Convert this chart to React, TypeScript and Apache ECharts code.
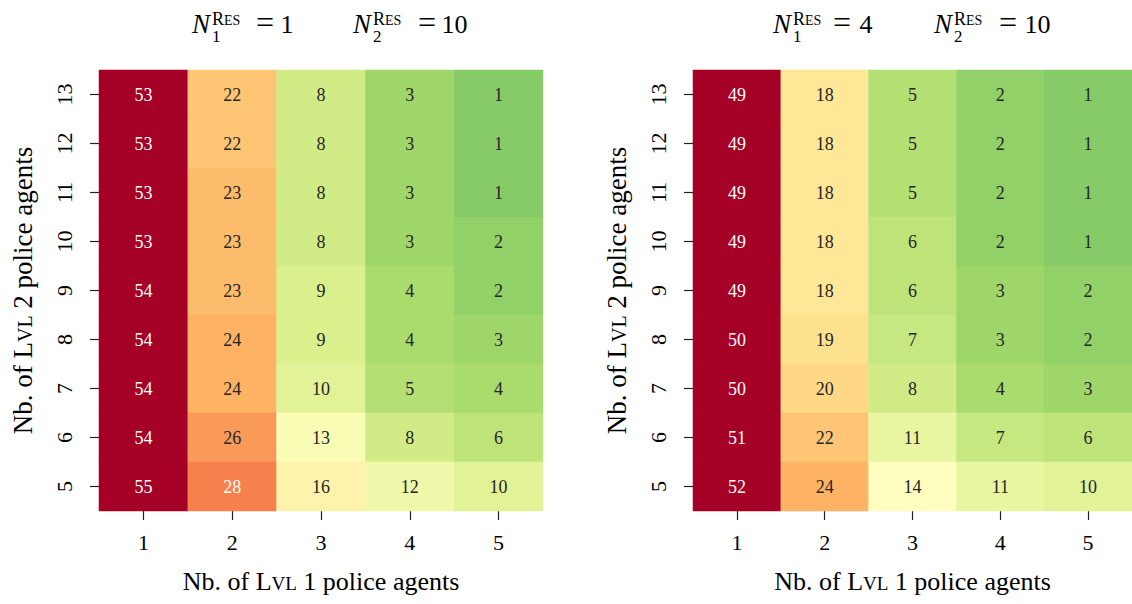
import React, { useEffect, useRef } from "react";
import * as echarts from "echarts";

const xCategories = ["1", "2", "3", "4", "5"];
const yCategories = ["5", "6", "7", "8", "9", "10", "11", "12", "13"];

// rows listed from top (13) to bottom (5); columns Lvl1 = 1..5
const leftValues = [
  [53, 22, 8, 3, 1],
  [53, 22, 8, 3, 1],
  [53, 23, 8, 3, 1],
  [53, 23, 8, 3, 2],
  [54, 23, 9, 4, 2],
  [54, 24, 9, 4, 3],
  [54, 24, 10, 5, 4],
  [54, 26, 13, 8, 6],
  [55, 28, 16, 12, 10],
];
const rightValues = [
  [49, 18, 5, 2, 1],
  [49, 18, 5, 2, 1],
  [49, 18, 5, 2, 1],
  [49, 18, 6, 2, 1],
  [49, 18, 6, 3, 2],
  [50, 19, 7, 3, 2],
  [50, 20, 8, 4, 3],
  [51, 22, 11, 7, 6],
  [52, 24, 14, 11, 10],
];

const colorMin = -12;
const colorMax = 40;
const rdYlGnReversed = [
  "#006837", "#1a9850", "#66bd63", "#a6d96a", "#d9ef8b", "#ffffbf",
  "#fee08b", "#fdae61", "#f46d43", "#d73027", "#a50026",
];

const FONT = "'Liberation Serif', 'Times New Roman', serif";

function hexToRgb(h: string) {
  return [1, 3, 5].map((i) => parseInt(h.slice(i, i + 2), 16));
}
function colorFor(v: number) {
  let t = (v - colorMin) / (colorMax - colorMin);
  t = Math.max(0, Math.min(1, t));
  const pos = t * (rdYlGnReversed.length - 1);
  const i = Math.min(Math.floor(pos), rdYlGnReversed.length - 2);
  const f = pos - i;
  const a = hexToRgb(rdYlGnReversed[i]);
  const b = hexToRgb(rdYlGnReversed[i + 1]);
  return a.map((c, k) => c + (b[k] - c) * f);
}
function luminance(rgb: number[]) {
  const lin = rgb.map((c) => {
    const s = c / 255;
    return s <= 0.03928 ? s / 12.92 : Math.pow((s + 0.055) / 1.055, 2.4);
  });
  return 0.2126 * lin[0] + 0.7152 * lin[1] + 0.0722 * lin[2];
}
function buildData(rows: number[][]) {
  const out: any[] = [];
  rows.forEach((row, r) => {
    const yi = yCategories.length - 1 - r;
    row.forEach((v, xi) => {
      const dark = luminance(colorFor(v)) > 0.408;
      out.push({ value: [xi, yi, v], label: { color: dark ? "#262626" : "#ffffff" } });
    });
  });
  return out;
}

function titleBlock(nx: number, sub: string, val: string, eqC: number, valC: number) {
  const els: any[] = [];
  const add = (text: string, x: number, baseline: number, size: number, italic = false, align = "left") => {
    els.push({
      type: "text",
      style: {
        text,
        x,
        y: baseline - 0.34 * size,
        fontSize: size,
        fontFamily: FONT,
        fontStyle: italic ? "italic" : "normal",
        fill: "#000",
        align,
        verticalAlign: "middle",
      },
    });
  };
  add("N", nx, 33, 27, true);
  add(sub, nx + 20, 42, 17);
  add("R", nx + 20, 25, 18);
  add("ES", nx + 32, 25, 14);
  add("=", eqC, 33, 32, false, "center");
  add(val, valC, 33, 26, false, "center");
  return els;
}

function axisPair(gi: number) {
  const labelStyle = { fontSize: 22, color: "#000", fontFamily: FONT };
  const nameStyle = (size: number, sc: number) => ({
    fontSize: size,
    color: "#000",
    fontFamily: FONT,
    rich: {
      n: { fontSize: size, color: "#000", fontFamily: FONT, verticalAlign: "bottom" },
      sc: { fontSize: sc, color: "#000", fontFamily: FONT, verticalAlign: "bottom", padding: [0, 0, 1, 0] },
    },
  });
  const tick = { show: true, alignWithLabel: true, length: 9, lineStyle: { color: "#222", width: 1.2 } };
  return {
    x: {
      type: "category",
      gridIndex: gi,
      data: xCategories,
      position: "bottom",
      axisLine: { show: false },
      axisTick: tick,
      axisLabel: { ...labelStyle, margin: 20 },
      splitLine: { show: false },
      name: "{n|Nb. of L}{sc|VL}{n| 1 police agents}",
      nameLocation: "middle",
      nameGap: 57,
      nameTextStyle: nameStyle(26, 19),
    },
    y: {
      type: "category",
      gridIndex: gi,
      data: yCategories,
      axisLine: { show: false },
      axisTick: tick,
      axisLabel: { ...labelStyle, margin: 24, rotate: 90 },
      splitLine: { show: false },
      name: "{n|Nb. of L}{sc|VL}{n| 2 police agents}",
      nameLocation: "middle",
      nameGap: 63,
      nameRotate: 90,
      nameTextStyle: nameStyle(27, 20),
    },
  };
}

export default function App() {
  const ref = useRef<HTMLDivElement>(null);
  useEffect(() => {
    if (!ref.current) return;
    const chart = echarts.init(ref.current, undefined, { renderer: "svg" });
    const a0 = axisPair(0);
    const a1 = axisPair(1);
    const seriesCommon = {
      type: "heatmap",
      label: { show: true, fontSize: 18, fontFamily: FONT },
      itemStyle: { borderWidth: 0 },
      emphasis: { disabled: true },
    };
    chart.setOption({
      animation: false,
      backgroundColor: "#ffffff",
      grid: [
        { left: 99, top: 70, width: 444, height: 441 },
        { left: 693, top: 70, width: 444, height: 441 },
      ],
      xAxis: [a0.x, a1.x],
      yAxis: [a0.y, a1.y],
      visualMap: {
        type: "continuous",
        show: false,
        min: colorMin,
        max: colorMax,
        dimension: 2,
        seriesIndex: [0, 1],
        inRange: { color: rdYlGnReversed },
      },
      graphic: [
        ...titleBlock(192, "1", "1", 265, 287),
        ...titleBlock(353, "2", "10", 427, 454.5),
        ...titleBlock(773, "1", "4", 842, 866),
        ...titleBlock(934, "2", "10", 1008, 1037.5),
      ],
      series: [
        { ...seriesCommon, xAxisIndex: 0, yAxisIndex: 0, data: buildData(leftValues) },
        { ...seriesCommon, xAxisIndex: 1, yAxisIndex: 1, data: buildData(rightValues) },
      ],
    });
    return () => chart.dispose();
  }, []);
  return (
    <div
      ref={ref}
      style={{ position: "absolute", left: 0, top: 0, width: 1132, height: 604, background: "#fff" }}
    />
  );
}
